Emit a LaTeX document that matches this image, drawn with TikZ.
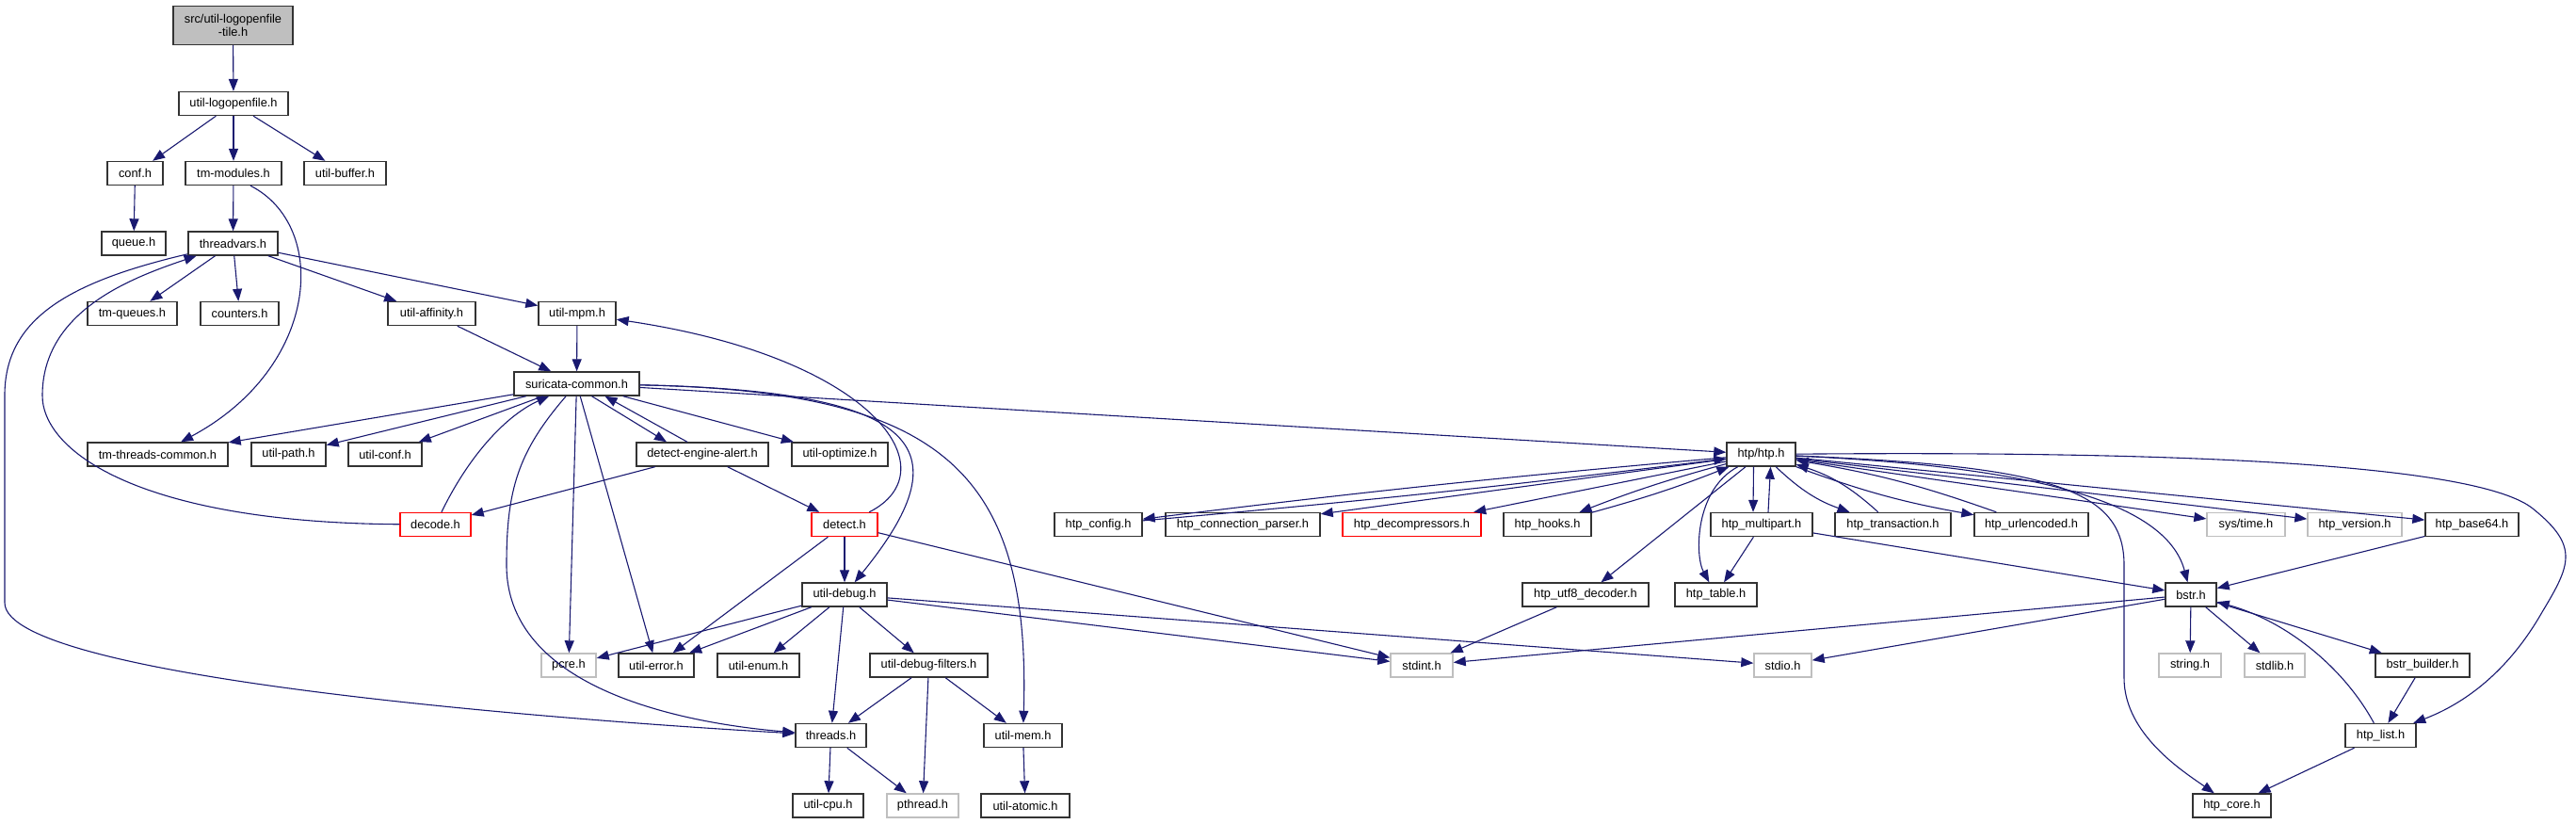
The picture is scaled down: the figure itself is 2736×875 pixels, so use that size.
\documentclass[tikz,border=0pt]{standalone}
\usepackage{fontspec}
\setmainfont{Liberation Sans}
\usetikzlibrary{arrows.meta}
\definecolor{linkblue}{RGB}{25,25,112}
\definecolor{boxgray}{RGB}{191,191,191}
\begin{document}
\begin{tikzpicture}[x=1pt,y=-1pt,font=\fontsize{12.8}{14}\selectfont,
  hdr/.style={draw=black!80,line width=1.4pt,fill=white,inner sep=0pt,minimum height=25pt,minimum width=#1pt},
  sys/.style={hdr=#1,draw=boxgray},
  bad/.style={hdr=#1,draw=red},
  inc/.style={draw=linkblue,line width=1.1pt,-{Triangle[length=13pt,width=10pt]}}]
\useasboundingbox (0,0) rectangle (2736,875);
\node[hdr=127,minimum height=41pt,fill=boxgray,align=center] (root) at (247.5,27) {src/util-logopenfile\\-tile.h};
\node[hdr=116] (ulog) at (248,110) {util-logopenfile.h};
\node[hdr=59] (conf) at (143.5,184) {conf.h};
\node[hdr=102] (tmmod) at (248,184) {tm-modules.h};
\node[hdr=87] (ubuf) at (366.5,184) {util-buffer.h};
\node[hdr=68] (queue) at (142,258.5) {queue.h};
\node[hdr=95] (tvars) at (247.5,258.5) {threadvars.h};
\node[hdr=95] (tmq) at (140.5,333) {tm-queues.h};
\node[hdr=83] (counters) at (254.5,333) {counters.h};
\node[hdr=93] (uaff) at (458.5,333) {util-affinity.h};
\node[hdr=82] (umpm) at (613,333) {util-mpm.h};
\node[hdr=133] (sc) at (612.5,407.5) {suricata-common.h};
\node[hdr=149] (ttc) at (167.5,482.5) {tm-threads-common.h};
\node[hdr=79] (upath) at (306.5,482.5) {util-path.h};
\node[hdr=78] (uconf) at (409,482.5) {util-conf.h};
\node[hdr=140] (dea) at (746,482.5) {detect-engine-alert.h};
\node[hdr=102] (uopt) at (892,482.5) {util-optimize.h};
\node[hdr=73] (htp) at (1870.5,482.5) {htp/htp.h};
\node[bad=75] (decode) at (462.5,557) {decode.h};
\node[bad=70] (detect) at (897,557) {detect.h};
\node[hdr=93] (hconf) at (1166.5,557) {htp\_config.h};
\node[hdr=164] (hconn) at (1320,557) {htp\_connection\_parser.h};
\node[bad=147] (hdec) at (1499.5,557) {htp\_decompressors.h};
\node[hdr=93] (hhooks) at (1643.5,557) {htp\_hooks.h};
\node[hdr=108] (hmulti) at (1871,557) {htp\_multipart.h};
\node[hdr=123] (htrans) at (2010.5,557) {htp\_transaction.h};
\node[hdr=121] (hurl) at (2157.5,557) {htp\_urlencoded.h};
\node[sys=83] (systime) at (2385.5,557) {sys/time.h};
\node[sys=100] (hver) at (2501,557) {htp\_version.h};
\node[hdr=99] (hb64) at (2625.5,557) {htp\_base64.h};
\node[hdr=90] (udebug) at (897,631.5) {util-debug.h};
\node[hdr=134] (hutf) at (1684,631.5) {htp\_utf8\_decoder.h};
\node[hdr=87] (htable) at (1822.5,631.5) {htp\_table.h};
\node[hdr=54] (bstr) at (2327,631.5) {bstr.h};
\node[sys=58] (pcre) at (604,706.5) {pcre.h};
\node[hdr=80] (uerr) at (697,706.5) {util-error.h};
\node[hdr=87] (uenum) at (805.5,706.5) {util-enum.h};
\node[hdr=125] (udf) at (986.5,706.5) {util-debug-filters.h};
\node[sys=66] (stdint) at (1510,706.5) {stdint.h};
\node[sys=61] (stdio) at (1893.5,706.5) {stdio.h};
\node[sys=66] (string) at (2326,706.5) {string.h};
\node[sys=64] (stdlib) at (2416,706.5) {stdlib.h};
\node[hdr=100] (bbuild) at (2573,706.5) {bstr\_builder.h};
\node[hdr=75] (threads) at (882.5,781) {threads.h};
\node[hdr=83] (umem) at (1086.5,781) {util-mem.h};
\node[hdr=75] (hlist) at (2528.5,781) {htp\_list.h};
\node[hdr=75] (ucpu) at (879.5,855.5) {util-cpu.h};
\node[sys=76] (pthread) at (980,855.5) {pthread.h};
\node[hdr=94] (uatom) at (1089,855.5) {util-atomic.h};
\node[hdr=83] (hcore) at (2370.5,855.5) {htp\_core.h};
\draw[inc] (root) -- (ulog);
\draw[inc] (ulog) -- (conf);
\draw[inc] (ulog) -- (tmmod);
\draw[inc] (ulog) -- (ubuf);
\draw[inc] (conf) -- (queue);
\draw[inc] (tmmod) -- (tvars);
\draw[inc] ([xshift=18pt]tmmod.south) .. controls (350,240) and (340,390) .. (ttc);
\draw[inc] (tvars) -- (tmq);
\draw[inc] (tvars) -- (counters);
\draw[inc] (tvars) -- (uaff);
\draw[inc] (tvars) -- (umpm);
\draw[inc] (tvars) .. controls (70,300) and (5,340) .. (5,420) -- (5,640) .. controls (5,720) and (600,765) .. (threads);
\draw[inc] (decode) .. controls (150,555) and (45,480) .. (45,420) .. controls (45,330) and (140,295) .. (tvars);
\draw[inc] (uaff) -- (sc);
\draw[inc] (umpm) -- (sc);
\draw[inc] (detect) .. controls (1010,500) and (930,380) .. (umpm);
\draw[inc] (sc) -- (ttc);
\draw[inc] (sc) -- (upath);
\draw[inc] (sc) -- (uconf);
\draw[inc] ([xshift=16pt]sc.south) -- ([xshift=-38pt]dea.north);
\draw[inc] ([xshift=-16pt]dea.north) -- ([xshift=30pt]sc.south);
\draw[inc] (sc) -- (uopt);
\draw[inc] (sc) -- (htp);
\draw[inc] (sc) -- (pcre);
\draw[inc] (sc) -- (uerr);
\draw[inc] (sc) .. controls (990,415) and (1020,480) .. (udebug);
\draw[inc] (sc) .. controls (1000,415) and (1095,500) .. (umem);
\draw[inc] (sc) .. controls (550,480) and (538,520) .. (538,600) .. controls (538,740) and (750,770) .. (threads);
\draw[inc] (decode) .. controls (500,480) and (540,440) .. (sc);
\draw[inc] (dea) -- (decode);
\draw[inc] (dea) -- (detect);
\draw[inc] (detect) -- (udebug);
\draw[inc] (detect) -- (uerr);
\draw[inc] (detect) -- (stdint);
\draw[inc] (udebug) -- (pcre);
\draw[inc] (udebug) -- (uerr);
\draw[inc] (udebug) -- (uenum);
\draw[inc] (udebug) -- (udf);
\draw[inc] (udebug) -- (threads);
\draw[inc] (udebug) -- (stdint);
\draw[inc] (udebug) -- (stdio);
\draw[inc] (udf) -- (threads);
\draw[inc] (udf) -- (pthread);
\draw[inc] (udf) -- (umem);
\draw[inc] (threads) -- (ucpu);
\draw[inc] (threads) -- (pthread);
\draw[inc] (umem) -- (uatom);
\draw[inc] (htp) to[bend right=1] (hconf);
\draw[inc] (hconf) to[bend right=1] (htp);
\draw[inc] (htp) -- (hconn);
\draw[inc] (htp) -- (hdec);
\draw[inc] (htp) to[bend right=3] (hhooks);
\draw[inc] (hhooks) to[bend right=3] (htp);
\draw[inc] ([xshift=-8pt]htp.south) -- ([xshift=-9pt]hmulti.north);
\draw[inc] ([xshift=7pt]hmulti.north) -- ([xshift=10pt]htp.south);
\draw[inc] (htp) to[bend right=12] (htrans);
\draw[inc] (htrans) to[bend right=12] (htp);
\draw[inc] (htp) to[bend right=5] (hurl);
\draw[inc] (hurl) to[bend right=5] (htp);
\draw[inc] (htp) -- (hutf);
\draw[inc] (htp) .. controls (1800,520) and (1800,590) .. (htable);
\draw[inc] (htp) -- (systime);
\draw[inc] (htp) -- (hver);
\draw[inc] (htp) -- (hb64);
\draw[inc] (htp) .. controls (2150,495) and (2300,530) .. (bstr);
\draw[inc] (htp) .. controls (2180,495) and (2256,520) .. (2256,600) -- (2256,720) .. controls (2256,780) and (2320,820) .. (hcore);
\draw[inc] (htp) .. controls (2400,478) and (2640,500) .. (2690,540) .. controls (2740,580) and (2730,600) .. (2700,650) .. controls (2660,720) and (2610,750) .. (hlist);
\draw[inc] (hmulti) -- (htable);
\draw[inc] (hmulti) -- (bstr);
\draw[inc] (hb64) -- (bstr);
\draw[inc] (hutf) -- (stdint);
\draw[inc] (bstr) -- (stdint);
\draw[inc] (bstr) -- (stdio);
\draw[inc] (bstr) -- (string);
\draw[inc] (bstr) -- (stdlib);
\draw[inc] (bstr) -- (bbuild);
\draw[inc] (bbuild) -- (hlist);
\draw[inc] (hlist) .. controls (2490,710) and (2430,660) .. (bstr);
\draw[inc] (hlist) -- (hcore);
\end{tikzpicture}
\end{document}
